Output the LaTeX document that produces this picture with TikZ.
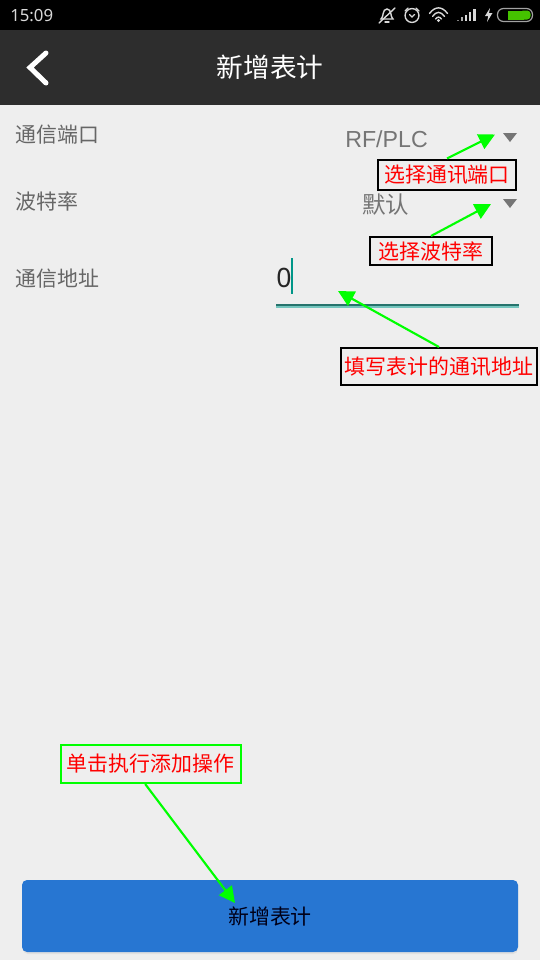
\documentclass[tikz,border=0pt]{standalone}
\usepackage{fontspec}
\setmainfont{Noto Sans CJK SC}
\newfontfamily\latinfont{Noto Sans}
\newfontfamily\valuefont{Liberation Sans}
\usetikzlibrary{arrows.meta,positioning}
\definecolor{pagebg}{HTML}{EEEEEE}
\definecolor{navbar}{HTML}{2D2D2D}
\definecolor{labelgray}{HTML}{666666}
\definecolor{valuegray}{HTML}{757575}
\definecolor{tealline}{HTML}{009688}
\definecolor{buttonblue}{HTML}{2776D2}
\definecolor{arrowgreen}{HTML}{00FF00}
\definecolor{icongray}{HTML}{D8D8D8}
\definecolor{batterygreen}{HTML}{45C200}
\tikzset{
    note/.style={draw=black, line width=1.5pt, text=red, inner sep=0pt, font=\fontsize{15.7}{18}\selectfont},
    fieldlabel/.style={anchor=west, inner sep=0pt, text=labelgray, font=\fontsize{15.7}{18}\selectfont},
    fieldvalue/.style={anchor=west, inner sep=0pt, text=valuegray},
    pointer/.style={draw=arrowgreen, line width=1.6pt, -{Triangle[length=12pt,width=12pt]}, arrowgreen},
    dropmark/.style={fill=valuegray, draw=none},
    icon/.style={draw=icongray, line width=1.05pt, line cap=round},
}
\begin{document}
\begin{tikzpicture}[x=0.75pt, y=-0.75pt]
    \useasboundingbox (0,0) rectangle (540,960);

    \fill[pagebg] (0,0) rectangle (540,960);
    \fill[black] (0,0) rectangle (540,30);
    \fill[navbar] (0,30) rectangle (540,105);

    \node[anchor=west, inner sep=0pt, text=icongray, font=\latinfont\fontsize{12.6}{15}\selectfont] (clock) at (10,15.5) {15:09};

    % mute bell
    \draw[icon] (381,19) .. controls (384,17) and (382,9) .. (387,9) .. controls (392,9) and (390,17) .. (393,19) -- cycle;
    \draw[icon] (385,22) -- (389,22);
    \draw[icon] (379,23) -- (395,8);

    % alarm
    \draw[icon] (412,15.5) circle[radius=5.2pt];
    \draw[icon] (409.5,14.5) -- (412,17) -- (414.5,14.5);
    \draw[icon] (405,11) -- (408,8);
    \draw[icon] (419,11) -- (416,8);

    % wifi
    \draw[icon] (429.5,13.5) .. controls (435,6) and (442,6) .. (447.5,13.5);
    \draw[icon] (432.5,16.5) .. controls (436.5,11) and (440.5,11) .. (444.5,16.5);
    \draw[icon] (435.5,19) .. controls (437.5,16.5) and (439.5,16.5) .. (441.5,19);
    \fill[icongray] (438.5,20.5) circle[radius=1.2pt];

    % signal
    \fill[icongray!60!black] (457,19.5) rectangle (459,21);
    \fill[icongray!80!black] (460.5,17) rectangle (463,21);
    \fill[icongray] (464.5,14.5) rectangle (467,21);
    \fill[icongray] (468.5,12) rectangle (471,21);
    \fill[icongray] (472.5,9) rectangle (475.5,21);

    % charging battery
    \fill[icongray] (490,8) -- (485,16) -- (488.3,16) -- (487,22) -- (492.5,13) -- (489,13) -- cycle;
    \draw[icongray!75!black, line width=0.9pt, rounded corners=4.5pt] (497.5,8.5) rectangle (532.5,21.5);
    \fill[batterygreen, rounded corners=2.5pt] (520,10.5) -- (530.5,10.5) -- (530.5,19.5) -- (520,19.5) -- cycle;
    \fill[batterygreen] (508,10.5) rectangle (524,19.5);

    \draw[white, line width=3.75pt, line cap=round] (46,53) -- (30,67.5) -- (46,83);
    \node[text=white, inner sep=0pt, font=\fontsize{20}{24}\selectfont] (title) at (270,67) {新增表计};

    \node[fieldlabel] (portlabel) at (15,135) {通信端口};
    \node[fieldlabel] (ratelabel) at (15,201) {波特率};
    \node[fieldlabel] (addrlabel) at (15,279) {通信地址};

    \node[fieldvalue, font=\valuefont\fontsize{17.4}{20}\selectfont] (portvalue) at (345,139) {RF/PLC};
    \node[fieldvalue, font=\fontsize{17.6}{20}\selectfont] (ratevalue) at (362,205) {默认};
    \node[anchor=west, inner sep=0pt, text=black!85, font=\latinfont\fontsize{20}{24}\selectfont] (addrvalue) at (276,278) {0};

    \fill[dropmark] (503,133) -- (517,133) -- (510,142) -- cycle;
    \fill[dropmark] (503,199) -- (517,199) -- (510,208) -- cycle;

    \fill[tealline] (291,258) rectangle (293,294);
    \fill[tealline!60!black!85] (276,304) rectangle (519,306);
    \fill[tealline!55] (276,306) rectangle (519,307.5);

    \fill[black!12, rounded corners=3.75pt] (23,883) rectangle (518,954);
    \node[draw=none, fill=buttonblue, rounded corners=3.75pt, minimum width=372pt, minimum height=54pt, inner sep=0pt, text=black!90!blue, font=\fontsize{15.7}{18}\selectfont] (addbutton) at (270,916) {新增表计};

    \node[note, minimum width=103.5pt, minimum height=22.5pt] (portnote) at (447,174.5) {选择通讯端口};
    \node[note, minimum width=91.5pt, minimum height=21pt] (ratenote) at (431,251) {选择波特率};
    \node[note, minimum width=147pt, minimum height=27.75pt] (addrnote) at (439,366.5) {填写表计的通讯地址};
    \node[note, draw=arrowgreen, minimum width=135pt, minimum height=28.5pt] (clicknote) at (150.5,764) {单击执行添加操作};

    \coordinate (porttip) at (495,134.5);
    \coordinate (ratetip) at (491,204);
    \coordinate (addrtip) at (338,291);
    \coordinate (clicktip) at (235,903);

    \draw[pointer] (portnote.north) -- (porttip);
    \draw[pointer] (ratenote.north) -- (ratetip);
    \draw[pointer] (addrnote.north) -- (addrtip);
    \draw[pointer] ([xshift=-4pt]clicknote.south) -- (clicktip);
\end{tikzpicture}
\end{document}
